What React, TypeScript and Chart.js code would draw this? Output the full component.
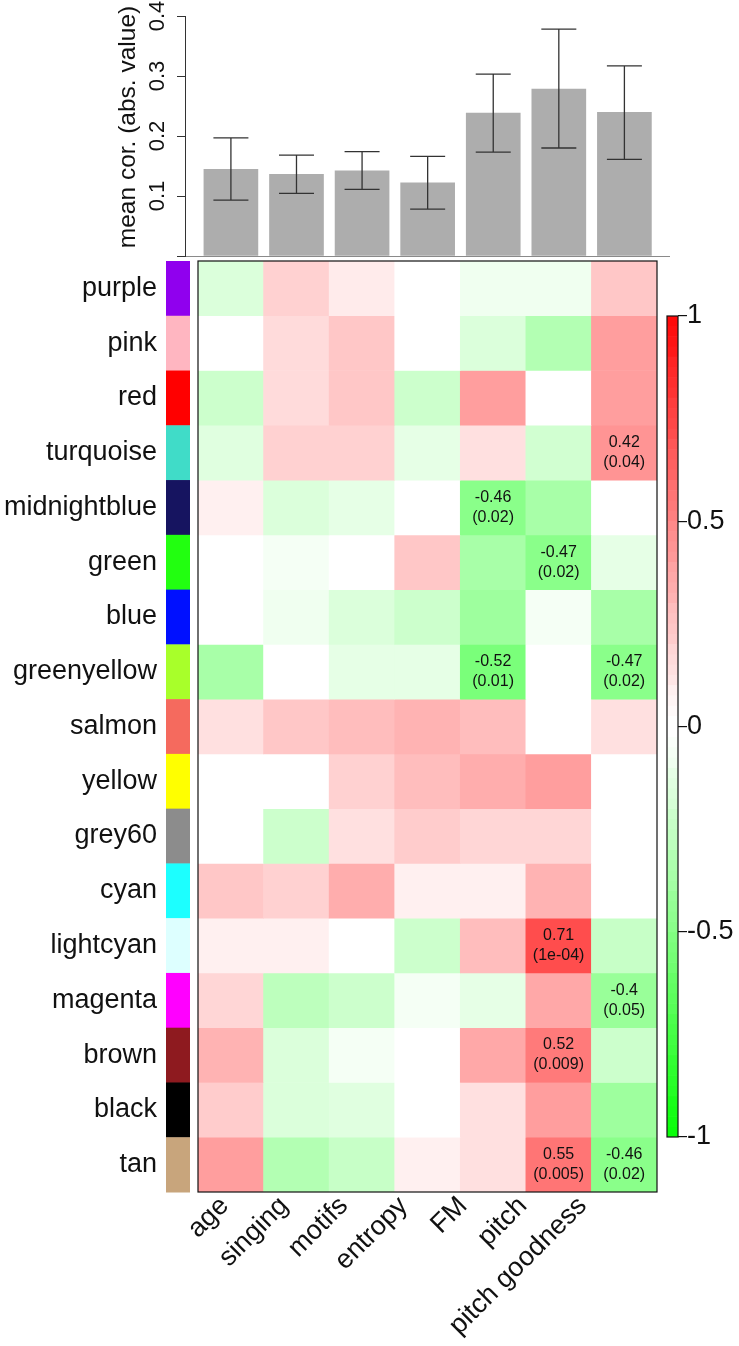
import React, { useEffect, useRef } from "react";
import { Chart, registerables } from "chart.js";

Chart.register(...registerables);

const W = 739;
const H = 1346;
const FONT = '"Liberation Sans", Arial, Helvetica, sans-serif';

// ---- Top bar chart: mean |correlation| per trait ----
const features = ["age", "singing", "motifs", "entropy", "FM", "pitch", "pitch goodness"];
const barMeans = [0.1445, 0.136, 0.142, 0.122, 0.238, 0.278, 0.2395];
const barLower = [0.093, 0.1045, 0.111, 0.078, 0.173, 0.18, 0.161];
const barUpper = [0.197, 0.168, 0.174, 0.166, 0.303, 0.378, 0.317];
const barTicks = [0, 0.1, 0.2, 0.3, 0.4];
const barTickLabels = ["", "0.1", "0.2", "0.3", "0.4"];

// ---- Heatmap: modules (rows) x traits (columns) ----
const modules = [
  "purple", "pink", "red", "turquoise", "midnightblue", "green", "blue", "greenyellow",
  "salmon", "yellow", "grey60", "cyan", "lightcyan", "magenta", "brown", "black", "tan",
];
const moduleColors = [
  "#9000EE", "#FFB6C1", "#FF0000", "#40DCC8", "#161460", "#22FF10", "#0010FF", "#A8FF2A",
  "#F56A5E", "#FFFF00", "#8C8C8C", "#1CFFFF", "#DDFFFF", "#FF00FF", "#8E1A1F", "#000000", "#C8A57C",
];
const ageCor = [-0.15, 0, -0.2, -0.13, 0.06, 0, 0, -0.35, 0.12, 0, 0, 0.22, 0.07, 0.17, 0.3, 0.2, 0.38];
const singingCor = [0.18, 0.14, 0.14, 0.18, -0.15, -0.05, -0.07, 0, 0.22, 0, -0.2, 0.18, 0.07, -0.27, -0.15, -0.15, -0.3];
const motifsCor = [0.08, 0.22, 0.22, 0.18, -0.1, 0, -0.15, -0.1, 0.26, 0.18, 0.12, 0.32, 0, -0.2, -0.05, -0.12, -0.22];
const entropyCor = [0, 0, -0.2, -0.1, 0, 0.22, -0.2, -0.1, 0.3, 0.26, 0.2, 0.07, -0.2, -0.05, 0, 0, 0.07];
const fmCor = [-0.06, -0.15, 0.39, 0.12, -0.46, -0.35, -0.38, -0.52, 0.27, 0.33, 0.16, 0.07, 0.27, -0.1, 0.35, 0.12, 0.12];
const pitchCor = [-0.06, -0.3, 0, -0.18, -0.35, -0.47, -0.04, 0, 0, 0.38, 0.16, 0.3, 0.71, 0.35, 0.52, 0.39, 0.55];
const goodnessCor = [0.22, 0.38, 0.38, 0.42, 0, -0.1, -0.35, -0.47, 0.12, 0, 0, 0, -0.22, -0.4, -0.2, -0.38, -0.46];
const corColumns = [ageCor, singingCor, motifsCor, entropyCor, fmCor, pitchCor, goodnessCor];

// significant cells: row index, column index, p-value text
const annotRow = [3, 4, 5, 7, 7, 12, 13, 14, 16, 16];
const annotCol = [6, 4, 5, 4, 6, 5, 6, 5, 5, 6];
const annotP = ["0.04", "0.02", "0.02", "0.01", "0.02", "1e-04", "0.05", "0.009", "0.005", "0.02"];

// ---- Colour key ----
const colorbarTicks = [-1, -0.5, 0, 0.5, 1];
const colorbarTickLabels = ["-1", "-0.5", "0", "0.5", "1"];
const colorbarSteps = 40; // per side

function corrColor(v: number): string {
  const steps = 50;
  const t = Math.min(1, Math.abs(v));
  const q = Math.floor(t * steps + 1e-9) / steps;
  const c = Math.round(255 * (1 - q));
  return v >= 0 ? `rgb(255,${c},${c})` : `rgb(${c},255,${c})`;
}

export default function App() {
  const barRef = useRef<HTMLCanvasElement>(null);
  const heatRef = useRef<HTMLCanvasElement>(null);
  const cbRef = useRef<HTMLCanvasElement>(null);

  useEffect(() => {
    const charts: Chart[] = [];

    // ---------- bar chart ----------
    const errorBarPlugin = {
      id: "errorBars",
      afterDatasetsDraw(chart: any) {
        const { ctx } = chart;
        const xs = chart.scales.x;
        const ys = chart.scales.y;
        ctx.save();
        ctx.strokeStyle = "#333";
        ctx.lineWidth = 1.3;
        barMeans.forEach((_, i) => {
          const px = xs.getPixelForValue(i);
          const top = ys.getPixelForValue(barUpper[i]);
          const bot = ys.getPixelForValue(barLower[i]);
          ctx.beginPath();
          ctx.moveTo(px, top);
          ctx.lineTo(px, bot);
          ctx.moveTo(px - 17.5, top);
          ctx.lineTo(px + 17.5, top);
          ctx.moveTo(px - 17.5, bot);
          ctx.lineTo(px + 17.5, bot);
          ctx.stroke();
        });
        ctx.restore();
      },
      afterDraw(chart: any) {
        const { ctx } = chart;
        const ys = chart.scales.y;
        ctx.save();
        ctx.fillStyle = "#111";
        ctx.textAlign = "center";
        ctx.textBaseline = "alphabetic";
        ctx.font = `22px ${FONT}`;
        barTicks.forEach((v, i) => {
          const py = ys.getPixelForValue(v);
          ctx.save();
          ctx.translate(164, py);
          ctx.rotate(-Math.PI / 2);
          ctx.fillText(barTickLabels[i], 0, 0);
          ctx.restore();
        });
        ctx.font = `24.5px ${FONT}`;
        const mid = (ys.top + ys.bottom) / 2 - 9;
        ctx.translate(135, mid);
        ctx.rotate(-Math.PI / 2);
        ctx.fillText("mean cor. (abs. value)", 0, 0);
        ctx.restore();
      },
    };

    charts.push(
      new Chart(barRef.current!, {
        type: "bar",
        data: {
          datasets: [
            {
              data: barMeans.map((v, i) => ({ x: i, y: v })),
              backgroundColor: "#ADADAD",
              barThickness: 54,
              borderWidth: 0,
            } as any,
          ],
        },
        options: {
          responsive: false,
          animation: false,
          devicePixelRatio: 1,
          layout: { padding: { left: 185, right: W - 669, top: 16, bottom: H - 256 } },
          plugins: { legend: { display: false }, tooltip: { enabled: false } },
          scales: {
            x: {
              type: "linear",
              min: -0.7,
              max: 6.68,
              offset: false,
              grid: { display: false },
              ticks: { display: false },
              border: { display: true, color: "#8a8a8a", width: 1 },
              afterFit: (s: any) => {
                s.height = 0;
              },
            },
            y: {
              type: "linear",
              min: 0,
              max: 0.4,
              ticks: { display: false, stepSize: 0.1 },
              afterBuildTicks: (s: any) => {
                s.ticks = barTicks.map((v) => ({ value: v }));
              },
              grid: {
                display: true,
                drawOnChartArea: false,
                drawTicks: true,
                tickLength: 8,
                color: "#333",
                lineWidth: 1,
              },
              border: { display: true, color: "#333", width: 1 },
              afterFit: (s: any) => {
                s.width = 0;
              },
            },
          },
        } as any,
        plugins: [errorBarPlugin],
      })
    );

    // ---------- heatmap ----------
    const heatPlugin = {
      id: "heatDecor",
      afterDraw(chart: any) {
        const { ctx, chartArea } = chart;
        const xs = chart.scales.x;
        const ys = chart.scales.y;
        ctx.save();
        // border
        ctx.strokeStyle = "#111";
        ctx.lineWidth = 1.2;
        ctx.strokeRect(chartArea.left, chartArea.top, chartArea.right - chartArea.left, chartArea.bottom - chartArea.top);

        // module colour swatches + labels
        modules.forEach((m, r) => {
          const y0 = ys.getPixelForValue(r);
          const y1 = ys.getPixelForValue(r + 1);
          ctx.fillStyle = moduleColors[r];
          ctx.fillRect(166, y0, 24, y1 - y0 + 0.5);
          ctx.fillStyle = "#111";
          ctx.font = `27px ${FONT}`;
          ctx.textAlign = "right";
          ctx.textBaseline = "middle";
          ctx.fillText(m, 157, (y0 + y1) / 2);
        });

        // significant cell annotations
        ctx.font = `16px ${FONT}`;
        ctx.textAlign = "center";
        ctx.textBaseline = "middle";
        ctx.fillStyle = "#111";
        annotRow.forEach((r, k) => {
          const c = annotCol[k];
          const px = xs.getPixelForValue(c);
          const py = (ys.getPixelForValue(r) + ys.getPixelForValue(r + 1)) / 2;
          ctx.fillText(String(corColumns[c][r]), px, py - 10);
          ctx.fillText(`(${annotP[k]})`, px, py + 10);
        });

        // rotated trait labels
        ctx.font = `27px ${FONT}`;
        ctx.textAlign = "right";
        ctx.textBaseline = "alphabetic";
        const c0 = xs.getPixelForValue(0);
        features.forEach((f, i) => {
          const ci = xs.getPixelForValue(i);
          const ax = c0 + (ci - c0) * 0.91 - 1;
          const ay = chartArea.bottom + 15;
          ctx.save();
          ctx.translate(ax, ay);
          ctx.rotate(-Math.PI / 4);
          ctx.fillText(f, 0, 0);
          ctx.restore();
        });
        ctx.restore();
      },
    };

    charts.push(
      new Chart(heatRef.current!, {
        type: "bar",
        data: {
          labels: features,
          datasets: modules.map((m, r) => ({
            label: m,
            data: features.map(() => [r, r + 1]),
            backgroundColor: corColumns.map((col) => corrColor(col[r])),
            grouped: false,
            barPercentage: 1,
            categoryPercentage: 1,
            borderWidth: 0,
          })) as any,
        },
        options: {
          responsive: false,
          animation: false,
          devicePixelRatio: 1,
          layout: { padding: { left: 198, right: W - 657, top: 261, bottom: H - 1192 } },
          plugins: { legend: { display: false }, tooltip: { enabled: false } },
          scales: {
            x: {
              type: "category",
              offset: true,
              grid: { display: false },
              ticks: { display: false },
              border: { display: false },
              afterFit: (s: any) => {
                s.height = 0;
              },
            },
            y: {
              type: "linear",
              min: 0,
              max: modules.length,
              reverse: true,
              grid: { display: false },
              ticks: { display: false },
              border: { display: false },
              afterFit: (s: any) => {
                s.width = 0;
              },
            },
          },
        } as any,
        plugins: [heatPlugin],
      })
    );

    // ---------- colour key ----------
    const bins: { lo: number; hi: number; color: string }[] = [];
    for (let k = 0; k < colorbarSteps; k++) {
      const a = k / colorbarSteps;
      const b = (k + 1) / colorbarSteps;
      bins.push({ lo: a, hi: b, color: corrColor(a) });
      bins.push({ lo: -b, hi: -a, color: corrColor(-a) });
    }
    const cbPlugin = {
      id: "cbDecor",
      afterDraw(chart: any) {
        const { ctx, chartArea } = chart;
        const ys = chart.scales.y;
        ctx.save();
        ctx.strokeStyle = "#111";
        ctx.lineWidth = 1.2;
        ctx.strokeRect(chartArea.left, chartArea.top, chartArea.right - chartArea.left, chartArea.bottom - chartArea.top);
        ctx.fillStyle = "#111";
        ctx.font = `27px ${FONT}`;
        ctx.textAlign = "left";
        ctx.textBaseline = "middle";
        colorbarTicks.forEach((v, i) => {
          ctx.fillText(colorbarTickLabels[i], chartArea.right + 9, ys.getPixelForValue(v));
        });
        ctx.restore();
      },
    };
    charts.push(
      new Chart(cbRef.current!, {
        type: "bar",
        data: {
          labels: ["key"],
          datasets: bins.map((b) => ({
            data: [[b.lo, b.hi]],
            backgroundColor: b.color,
            grouped: false,
            barPercentage: 1,
            categoryPercentage: 1,
            borderWidth: 0,
          })) as any,
        },
        options: {
          responsive: false,
          animation: false,
          devicePixelRatio: 1,
          layout: { padding: { left: 667, right: W - 678, top: 316, bottom: H - 1137 } },
          plugins: { legend: { display: false }, tooltip: { enabled: false } },
          scales: {
            x: {
              type: "category",
              display: false,
            },
            y: {
              type: "linear",
              position: "right",
              min: -1,
              max: 1,
              ticks: { display: false },
              afterBuildTicks: (s: any) => {
                s.ticks = colorbarTicks.map((v) => ({ value: v }));
              },
              grid: {
                display: true,
                drawOnChartArea: false,
                drawTicks: true,
                tickLength: 9,
                color: "#111",
                lineWidth: 1.2,
              },
              border: { display: false },
              afterFit: (s: any) => {
                s.width = 0;
              },
            },
          },
        } as any,
        plugins: [cbPlugin],
      })
    );

    return () => {
      charts.forEach((c) => c.destroy());
    };
  }, []);

  const cs: React.CSSProperties = { position: "absolute", left: 0, top: 0, width: W, height: H };
  return (
    <div style={{ position: "absolute", left: 0, top: 0, width: W, height: H, background: "#fff" }}>
      <canvas ref={barRef} width={W} height={H} style={cs} />
      <canvas ref={heatRef} width={W} height={H} style={cs} />
      <canvas ref={cbRef} width={W} height={H} style={cs} />
    </div>
  );
}
